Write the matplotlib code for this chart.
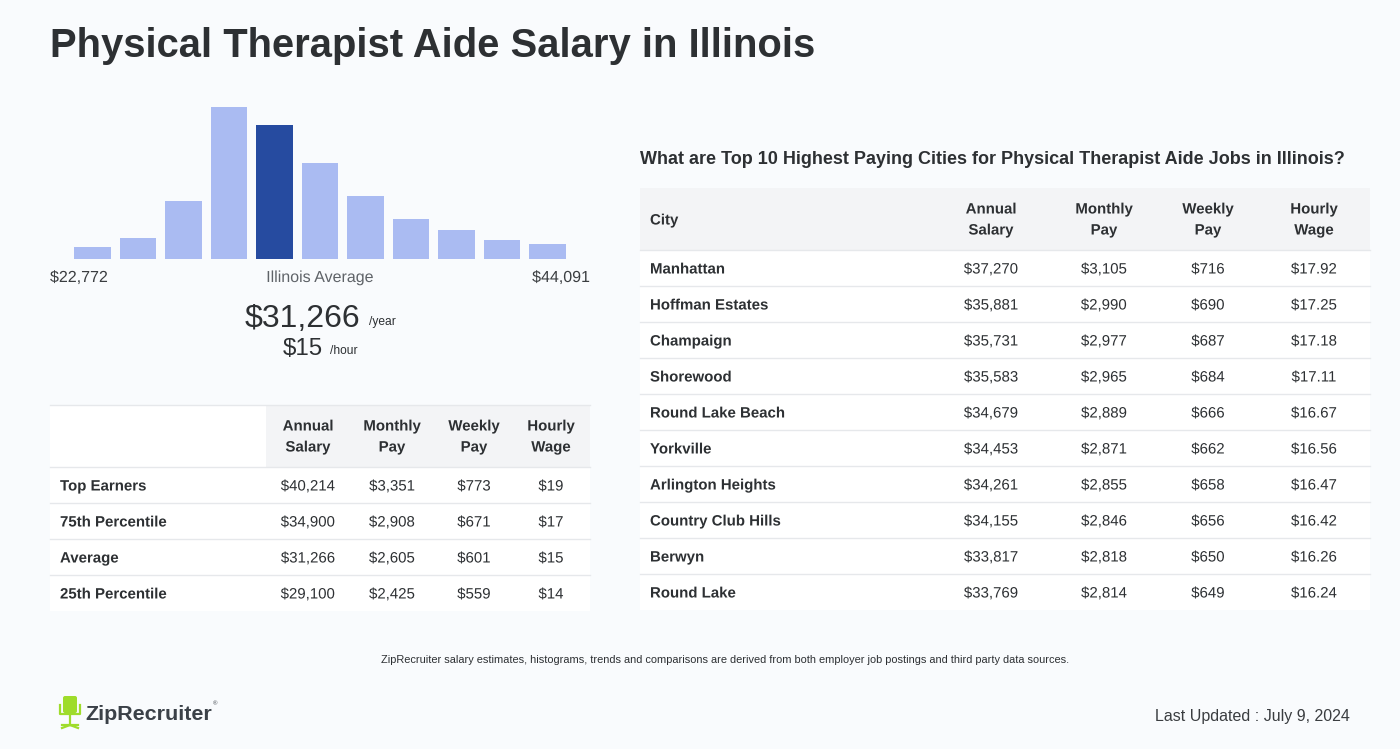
import matplotlib
matplotlib.use('Agg')
import matplotlib.pyplot as plt
import matplotlib.patheffects as pe
from matplotlib.patches import Rectangle, FancyBboxPatch

plt.rcParams['font.family'] = ['Liberation Sans', 'DejaVu Sans']

# histogram (relative bar heights, highlighted bin = the average)
hist_heights = [12, 21, 58, 152, 134, 96, 63, 40, 29, 19, 15]
hist_highlight = 4
range_low = '$22,772'
range_high = '$44,091'
avg_year = '$31,266'
avg_hour = '$15'

# state percentile table
pct_rows = ['Top Earners', '75th Percentile', 'Average', '25th Percentile']
pct_annual = ['$40,214', '$34,900', '$31,266', '$29,100']
pct_monthly = ['$3,351', '$2,908', '$2,605', '$2,425']
pct_weekly = ['$773', '$671', '$601', '$559']
pct_hourly = ['$19', '$17', '$15', '$14']

# top cities table
cities = ['Manhattan', 'Hoffman Estates', 'Champaign', 'Shorewood', 'Round Lake Beach',
          'Yorkville', 'Arlington Heights', 'Country Club Hills', 'Berwyn', 'Round Lake']
city_annual = ['$37,270', '$35,881', '$35,731', '$35,583', '$34,679',
               '$34,453', '$34,261', '$34,155', '$33,817', '$33,769']
city_monthly = ['$3,105', '$2,990', '$2,977', '$2,965', '$2,889',
                '$2,871', '$2,855', '$2,846', '$2,818', '$2,814']
city_weekly = ['$716', '$690', '$687', '$684', '$666', '$662', '$658', '$656', '$650', '$649']
city_hourly = ['$17.92', '$17.25', '$17.18', '$17.11', '$16.67',
               '$16.56', '$16.47', '$16.42', '$16.26', '$16.24']

col_heads = ['Annual\nSalary', 'Monthly\nPay', 'Weekly\nPay', 'Hourly\nWage']

BG = '#f9fbfd'
TXT = '#2d3033'
HEAD_BG = '#f3f4f6'
LINE = '#e6e8eb'
LIGHT = '#aabbf2'
DARK = '#264ba0'

W, H = 1400, 749
fig = plt.figure(figsize=(W / 100, H / 100), dpi=100, facecolor=BG)
ax = fig.add_axes([0, 0, 1, 1])
ax.set_xlim(0, W)
ax.set_ylim(H, 0)
ax.axis('off')

def pt(px):
    return px * 0.72

# drawing text as paths keeps a row's cells on one baseline (no per-string pixel snapping)
AS_PATH = [pe.Normal()]

def cell(x, yc, s, ha='center', bold=False):
    ax.text(x, yc + 5.5, s, fontsize=pt(15), fontweight='bold' if bold else 'normal',
            color=TXT, ha=ha, va='baseline', path_effects=AS_PATH)

def header(x, top, s):
    l1, l2 = s.split('\n')
    cell(x, top + 20, l1, bold=True)
    cell(x, top + 41, l2, bold=True)

# title
ax.text(50, 46, 'Physical Therapist Aide Salary in Illinois', fontsize=pt(40),
        fontweight='bold', color=TXT, va='center', ha='left')

# histogram axes, placed in pixel space
hx0, hx1, hy0, hy1 = 50, 590, 90, 259
axh = fig.add_axes([hx0 / W, 1 - hy1 / H, (hx1 - hx0) / W, (hy1 - hy0) / H])
axh.set_xlim(-0.934, 10.934)
axh.set_ylim(0, hy1 - hy0)
axh.axis('off')
colors = [DARK if i == hist_highlight else LIGHT for i in range(len(hist_heights))]
axh.bar(range(len(hist_heights)), hist_heights, width=0.81, color=colors)

ax.text(50, 282, range_low, fontsize=pt(16), color='#3a3d40', ha='left', va='baseline',
        path_effects=AS_PATH)
ax.text(320, 282, 'Illinois Average', fontsize=pt(16), color='#5f6368', ha='center',
        va='baseline', path_effects=AS_PATH)
ax.text(590, 282, range_high, fontsize=pt(16), color='#3a3d40', ha='right', va='baseline',
        path_effects=AS_PATH)
ax.text(360, 327, avg_year, fontsize=pt(32), color=TXT, ha='right', va='baseline')
ax.text(369, 325, '/year', fontsize=pt(12), color=TXT, ha='left', va='baseline')
ax.text(323, 355, avg_hour, fontsize=pt(24), color=TXT, ha='right', va='baseline')
ax.text(330, 354, '/hour', fontsize=pt(12), color=TXT, ha='left', va='baseline')

# left table
lx0, lx1 = 50, 590
ltop, lhead, rowh = 405, 62, 36
ax.add_patch(Rectangle((lx0, ltop), 216, lhead, facecolor='white', edgecolor='none'))
ax.add_patch(Rectangle((266, ltop), lx1 - 266, lhead, facecolor=HEAD_BG, edgecolor='none'))
ax.plot([lx0, lx1], [ltop, ltop], color=LINE, lw=1)
lcols = [308, 392, 474, 551]
for cx, hd in zip(lcols, col_heads):
    header(cx, ltop, hd)
for i, name in enumerate(pct_rows):
    y0 = ltop + lhead + i * rowh
    ax.add_patch(Rectangle((lx0, y0), lx1 - lx0, rowh, facecolor='white', edgecolor='none'))
    ax.plot([lx0, lx1], [y0, y0], color=LINE, lw=1)
    yc = y0 + rowh / 2
    cell(60, yc, name, ha='left', bold=True)
    for cx, v in zip(lcols, [pct_annual[i], pct_monthly[i], pct_weekly[i], pct_hourly[i]]):
        cell(cx, yc, v)

# right table
rx0, rx1 = 640, 1370
ax.text(640, 164, 'What are Top 10 Highest Paying Cities for Physical Therapist Aide Jobs in Illinois?',
        fontsize=pt(18), fontweight='bold', color=TXT, ha='left', va='baseline')
rtop = 188
ax.add_patch(Rectangle((rx0, rtop), rx1 - rx0, lhead, facecolor=HEAD_BG, edgecolor='none'))
cell(650, rtop + lhead / 2, 'City', ha='left', bold=True)
rcols = [991, 1104, 1208, 1314]
for cx, hd in zip(rcols, col_heads):
    header(cx, rtop, hd)
for i, name in enumerate(cities):
    y0 = rtop + lhead + i * rowh
    ax.add_patch(Rectangle((rx0, y0), rx1 - rx0, rowh, facecolor='white', edgecolor='none'))
    ax.plot([rx0, rx1], [y0, y0], color=LINE, lw=1)
    yc = y0 + rowh / 2
    cell(650, yc, name, ha='left', bold=True)
    for cx, v in zip(rcols, [city_annual[i], city_monthly[i], city_weekly[i], city_hourly[i]]):
        cell(cx, yc, v)

# footer
ax.text(725, 660, 'ZipRecruiter salary estimates, histograms, trends and comparisons are derived '
        'from both employer job postings and third party data sources.',
        fontsize=pt(11), color=TXT, ha='center', va='center')
ax.text(1350, 721, 'Last Updated : July 9, 2024', fontsize=pt(16), color='#3a3d40',
        ha='right', va='baseline')

# logo: simple green chair + wordmark
GREEN = '#9fdc2b'
ax.add_patch(FancyBboxPatch((63, 696), 14, 17, boxstyle='round,pad=0,rounding_size=2',
                            facecolor=GREEN, edgecolor='none'))
ax.plot([60, 60, 80, 80], [705, 714, 714, 705], color=GREEN, lw=1.6)
ax.plot([70, 70], [714, 725], color=GREEN, lw=1.6)
ax.plot([62, 78], [725, 725], color=GREEN, lw=1.6)
ax.plot([62, 70, 78], [728, 725, 728], color=GREEN, lw=1.6)
ax.text(85, 720, 'ZipRecruiter', fontsize=pt(21.5), fontweight='bold', color='#3b4148',
        ha='left', va='baseline')
ax.text(213, 704, '®', fontsize=pt(6), color='#3b4148', ha='left', va='center')

fig.savefig('out.png', dpi=100, facecolor=BG)
